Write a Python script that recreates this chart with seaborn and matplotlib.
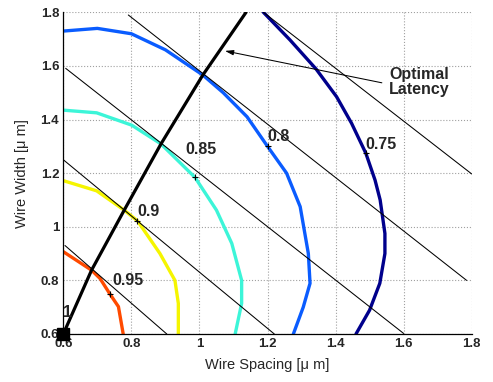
import numpy as np
import pandas as pd
import matplotlib
matplotlib.use("Agg")
import matplotlib.pyplot as plt
import seaborn as sns

# ---- data ----
levels = ["0.75", "0.8", "0.85", "0.9", "0.95"]

c075_x = [1.188, 1.266, 1.343, 1.403, 1.447, 1.489, 1.516, 1.531, 1.545, 1.545, 1.53, 1.50, 1.46]
c075_y = [1.80, 1.697, 1.588, 1.485, 1.386, 1.274, 1.174, 1.10, 0.975, 0.90, 0.789, 0.689, 0.60]

c080_x = [0.60, 0.70, 0.80, 0.90, 1.01, 1.07, 1.14, 1.20, 1.256, 1.296, 1.32, 1.325, 1.305, 1.276]
c080_y = [1.73, 1.74, 1.72, 1.66, 1.566, 1.50, 1.41, 1.30, 1.20, 1.075, 0.90, 0.789, 0.70, 0.60]

c085_x = [0.60, 0.698, 0.801, 0.887, 0.987, 1.05, 1.095, 1.124, 1.124, 1.105]
c085_y = [1.435, 1.425, 1.379, 1.309, 1.184, 1.062, 0.938, 0.80, 0.714, 0.60]

c090_x = [0.60, 0.698, 0.779, 0.818, 0.884, 0.928, 0.938, 0.938]
c090_y = [1.172, 1.134, 1.062, 1.022, 0.90, 0.80, 0.714, 0.60]

c095_x = [0.60, 0.683, 0.708, 0.737, 0.762, 0.776]
c095_y = [0.907, 0.838, 0.807, 0.749, 0.702, 0.60]

# constant-latency tangent lines (start, end)
tan_x = [[1.188, 1.80], [0.791, 1.785], [0.607, 1.60], [0.60, 1.22], [0.605, 0.904]]
tan_y = [[1.80, 1.197], [1.79, 0.80], [1.591, 0.602], [1.25, 0.60], [0.93, 0.60]]

# optimal latency path
opt_x = [0.60, 0.683, 0.779, 0.887, 1.010, 1.137]
opt_y = [0.60, 0.838, 1.062, 1.309, 1.566, 1.80]

# contour label marks
lab_text = ["0.75", "0.8", "0.85", "0.9", "0.95", "1"]
lab_plus_x = [1.489, 1.200, 0.987, 0.818, 0.737]
lab_plus_y = [1.274, 1.302, 1.184, 1.022, 0.749]
lab_text_x = [1.489, 1.200, 0.958, 0.817, 0.745, 0.598]
lab_text_y = [1.307, 1.336, 1.288, 1.058, 0.798, 0.680]

# annotation
ann_text = "Optimal\nLatency"
ann_text_xy = (1.645, 1.54)
ann_tail_xy = (1.536, 1.537)
ann_head_xy = (1.075, 1.656)

xticks = [0.6, 0.8, 1.0, 1.2, 1.4, 1.6, 1.8]
tick_labels = ["0.6", "0.8", "1", "1.2", "1.4", "1.6", "1.8"]

# ---- build table ----
curves = {"0.75": (c075_x, c075_y), "0.8": (c080_x, c080_y), "0.85": (c085_x, c085_y),
          "0.9": (c090_x, c090_y), "0.95": (c095_x, c095_y)}
rows = []
for lv in levels:
    xs, ys = curves[lv]
    for i, (a, b) in enumerate(zip(xs, ys)):
        rows.append({"spacing": a, "width": b, "level": lv, "order": i})
df = pd.DataFrame(rows)

palette = {"0.75": "#00008C", "0.8": "#0A5CFF", "0.85": "#3CF5D8",
           "0.9": "#F5F500", "0.95": "#FF4A00"}

sns.set_style("white")
plt.rcParams["font.family"] = ["Liberation Sans", "DejaVu Sans"]

fig = plt.figure(figsize=(4.93, 3.82), dpi=100)
ax = fig.add_axes([0.1284, 0.1257, 0.8284, 0.8421])

# tangent lines
for xs, ys in zip(tan_x, tan_y):
    ax.plot(xs, ys, color="black", lw=0.75, zorder=3)

sns.lineplot(data=df, x="spacing", y="width", hue="level", palette=palette,
             sort=False, estimator=None, legend=False, lw=2.4, ax=ax, zorder=2)

ax.plot(opt_x, opt_y, color="black", lw=2.3, zorder=4, clip_on=True)
ax.plot([opt_x[0]], [opt_y[0]], marker="s", color="black", markersize=8,
        zorder=6, clip_on=False)

ax.plot(lab_plus_x, lab_plus_y, ls="none", marker="+", color="black",
        markersize=4, mew=0.8, zorder=5)
for t, x, y in zip(lab_text, lab_text_x, lab_text_y):
    ax.text(x, y, t, ha="left", va="center", fontsize=11.5, fontweight="bold",
            zorder=7)

ax.annotate("", xy=ann_head_xy, xytext=ann_tail_xy,
            arrowprops=dict(arrowstyle="-|>,head_length=0.5,head_width=0.15",
                            color="black", lw=0.75, shrinkA=0, shrinkB=0),
            zorder=8)
ax.text(ann_text_xy[0], ann_text_xy[1], ann_text, ha="center", va="center",
        fontsize=11.5, fontweight="bold", linespacing=1.0, zorder=8)

ax.set_xlim(0.6, 1.8)
ax.set_ylim(0.6, 1.8)
ax.set_xticks(xticks)
ax.set_yticks(xticks)
ax.set_xticklabels(tick_labels, fontweight="bold", fontsize=9.5)
ax.set_yticklabels(tick_labels, fontweight="bold", fontsize=9.5)
ax.tick_params(direction="in", length=3, width=0.8, pad=3)
ax.grid(True, ls=":", color="#a0a0a0", lw=0.8)
for s in ["top", "right"]:
    ax.spines[s].set_visible(False)
for s in ["left", "bottom"]:
    ax.spines[s].set_color("black")
    ax.spines[s].set_linewidth(0.9)

ax.set_xlabel("Wire Spacing [\u03bc m]", fontsize=10.5, labelpad=6)
ax.set_ylabel("Wire Width [\u03bc m]", fontsize=10.5, labelpad=8)

fig.savefig("out.png", dpi=100)
